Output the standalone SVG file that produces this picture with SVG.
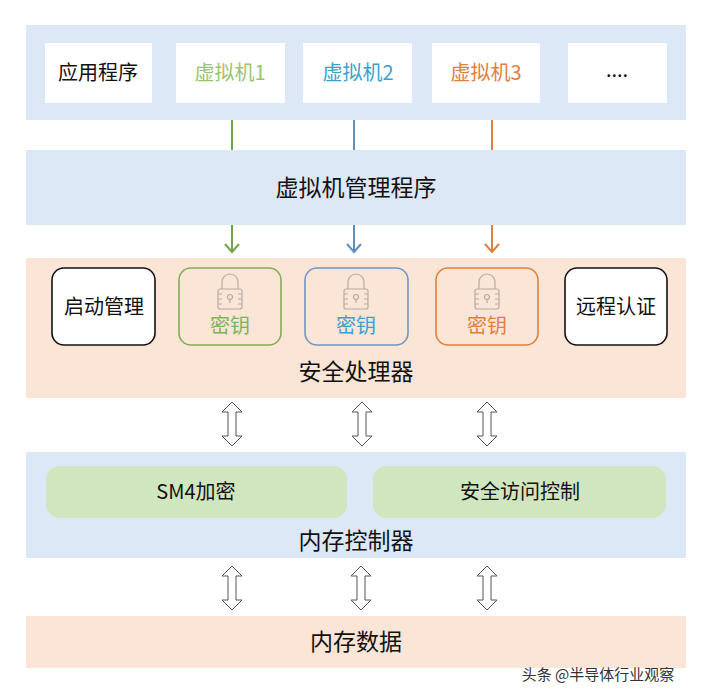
<svg xmlns="http://www.w3.org/2000/svg" width="706" height="698" viewBox="0 0 706 698">
<style>
text{font-family:"Noto Sans CJK SC","Liberation Sans",sans-serif;text-anchor:middle;dominant-baseline:central}
.t{font-size:20px;fill:#111}
.big{font-size:23px;fill:#111}
.wb{fill:#fff}
.bk{fill:#fff;stroke:#111;stroke-width:1.6}
.dbl{fill:#fff;stroke:#555;stroke-width:1}
.lk{fill:none;stroke:#b9aaa0;stroke-width:1.2}
</style>
<defs>
<g id="dbl"><path class="dbl" d="M0,0 L-10,10 L-4,10 L-4,34 L-10,34 L0,44 L10,34 L4,34 L4,10 L10,10 Z"/></g>
<g id="lock"><path class="lk" d="M-8,-4 V-11 A8,8 0 0 1 8,-11 V-4"/><rect class="lk" x="-12" y="-4" width="24" height="20" rx="2"/><circle class="lk" cx="0" cy="4" r="2.5"/><path class="lk" d="M0,6 V10 M-12,1 H-8 M-12,6 H-8 M-12,11 H-8 M12,1 H8 M12,6 H8 M12,11 H8"/></g>
</defs>
<rect width="706" height="698" fill="#fff"/>
<g id="connectors">
<path d="M232,120 V252 M225,244 L232,252 L239,244" fill="none" stroke="#70a448" stroke-width="2"/>
<path d="M354,120 V252 M347,244 L354,252 L361,244" fill="none" stroke="#5b8fbf" stroke-width="2"/>
<path d="M492,120 V252 M485,244 L492,252 L499,244" fill="none" stroke="#e0803e" stroke-width="2"/>
<use href="#dbl" x="232" y="402"/><use href="#dbl" x="362" y="402"/><use href="#dbl" x="487" y="402"/>
<use href="#dbl" x="232" y="566"/><use href="#dbl" x="361" y="566"/><use href="#dbl" x="487" y="566"/>
</g>
<g id="layer-apps"><rect x="26" y="25" width="660" height="95" fill="#dce8f5"/></g>
<g id="app"><rect class="wb" x="45" y="43" width="107" height="60"/><text class="t" x="98" y="71">应用程序</text></g>
<g id="vm1"><rect class="wb" x="176" y="43" width="109" height="60"/><text class="t" x="230" y="71" style="fill:#9bc46e">虚拟机1</text></g>
<g id="vm2"><rect class="wb" x="303" y="43" width="109" height="60"/><text class="t" x="358" y="71" style="fill:#3ba0d0">虚拟机2</text></g>
<g id="vm3"><rect class="wb" x="432" y="43" width="108" height="60"/><text class="t" x="486" y="71" style="fill:#e0803e">虚拟机3</text></g>
<g id="more"><rect class="wb" x="568" y="43" width="99" height="60"/><text class="t" x="617" y="68">....</text></g>
<g id="hypervisor"><rect x="26" y="150" width="660" height="75" fill="#dce8f5"/><text class="big" x="356" y="186">虚拟机管理程序</text></g>
<g id="secproc"><rect x="26" y="258" width="660" height="140" fill="#fbe5d6"/><text class="big" x="356" y="370">安全处理器</text></g>
<g id="boot"><rect class="bk" x="52" y="268" width="103" height="77" rx="12"/><text class="t" x="104" y="305">启动管理</text></g>
<g id="key1"><rect x="179" y="268" width="102" height="77" rx="12" fill="#fbe5d6" stroke="#82ad5a" stroke-width="1.6"/><use href="#lock" x="230" y="293"/><text class="t" x="230" y="324" style="fill:#7fb356">密钥</text></g>
<g id="key2"><rect x="305" y="268" width="103" height="77" rx="12" fill="#fbe5d6" stroke="#6f97c4" stroke-width="1.6"/><use href="#lock" x="356" y="293"/><text class="t" x="356" y="324" style="fill:#3ba0d0">密钥</text></g>
<g id="key3"><rect x="436" y="268" width="102" height="77" rx="12" fill="#fbe5d6" stroke="#e0803e" stroke-width="1.6"/><use href="#lock" x="487" y="293"/><text class="t" x="487" y="324" style="fill:#e0803e">密钥</text></g>
<g id="attest"><rect class="bk" x="565" y="268" width="102" height="77" rx="12"/><text class="t" x="616" y="305">远程认证</text></g>
<g id="memctrl"><rect x="26" y="452" width="660" height="106" fill="#dce8f5"/><text class="big" x="356" y="539">内存控制器</text></g>
<g id="sm4"><rect x="46" y="466" width="301" height="52" rx="14" fill="#cfe6bf"/><text class="t" x="196" y="490">SM4加密</text></g>
<g id="acl"><rect x="373" y="466" width="293" height="52" rx="14" fill="#cfe6bf"/><text class="t" x="520" y="490">安全访问控制</text></g>
<g id="memdata"><rect x="26" y="616" width="660" height="52" fill="#fbe5d6"/><text class="big" x="356" y="640">内存数据</text></g>
<text x="598" y="673" style="font-size:15px;fill:#333">头条 @半导体行业观察</text>
</svg>
